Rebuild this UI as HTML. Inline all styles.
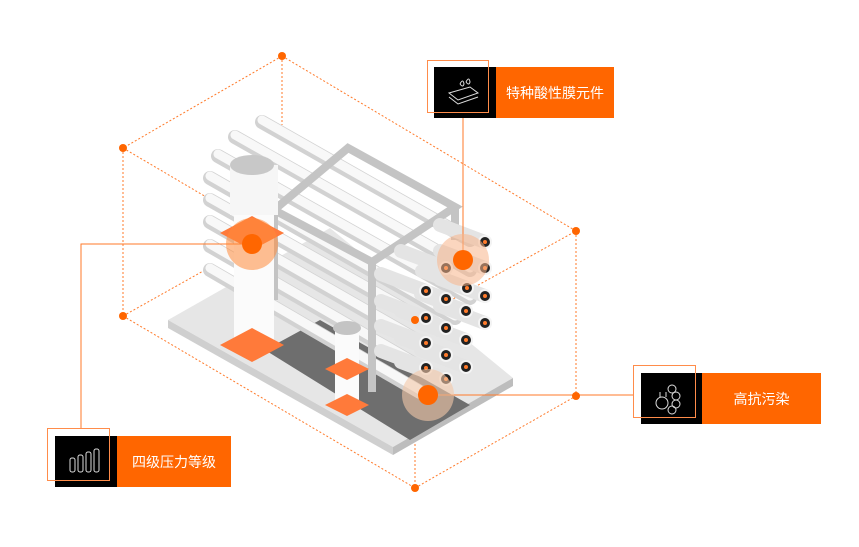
<!DOCTYPE html>
<html><head><meta charset="utf-8"><style>
body{margin:0;background:#fff;width:859px;height:547px;overflow:hidden;font-family:"Liberation Sans","Noto Sans CJK SC",sans-serif}
svg{position:absolute;left:0;top:0}
.lbl{position:absolute;color:#fff;font-size:14px;display:flex;align-items:center;justify-content:center;background:#ff6600}
.blk{position:absolute;background:#000}
.out{position:absolute;border:1px solid #ff8c4a}
</style></head><body>
<svg width="859" height="547" viewBox="0 0 859 547">
<g stroke="#ff7a2a" stroke-width="1" stroke-dasharray="2,2" fill="none">
<line x1="282" y1="56" x2="123" y2="148"/><line x1="282" y1="56" x2="576" y2="231"/>
<line x1="123" y1="148" x2="123" y2="316"/><line x1="123" y1="148" x2="415" y2="320"/>
<line x1="415" y1="320" x2="576" y2="231"/><line x1="415" y1="320" x2="415" y2="488"/>
<line x1="123" y1="316" x2="415" y2="488"/><line x1="415" y1="488" x2="576" y2="396"/>
<line x1="576" y1="231" x2="576" y2="396"/><line x1="282" y1="56" x2="282" y2="125"/>
<line x1="123" y1="316" x2="205" y2="270"/>
</g>
<!-- base plate -->
<polygon points="168,320 330,228 513,378 393,447" fill="#e6e6e6"/>
<polygon points="168,320 393,447 393,455 168,328" fill="#cfcfcf"/>
<polygon points="393,447 513,378 513,386 393,455" fill="#bdbdbd"/>
<polygon points="265,350 320,320 470,405 410,440" fill="#6e6e6e"/>
<!-- pipes -->
<g stroke-linecap="round">
<g stroke="#d2d2d2" stroke-width="14">
<line x1="262" y1="122" x2="470" y2="240"/>
<line x1="235" y1="137" x2="470" y2="270"/>
<line x1="218" y1="156" x2="470" y2="298"/>
<line x1="210" y1="178" x2="455" y2="318"/>
<line x1="210" y1="200" x2="440" y2="330"/>
<line x1="210" y1="222" x2="425" y2="345"/>
<line x1="210" y1="246" x2="425" y2="370"/>
<line x1="210" y1="270" x2="420" y2="392"/>
</g>
<g stroke="#f8f8f8" stroke-width="9">
<line x1="262" y1="120" x2="470" y2="238"/>
<line x1="235" y1="135" x2="470" y2="268"/>
<line x1="218" y1="154" x2="470" y2="296"/>
<line x1="210" y1="176" x2="455" y2="316"/>
<line x1="210" y1="198" x2="440" y2="328"/>
<line x1="210" y1="220" x2="425" y2="343"/>
<line x1="210" y1="244" x2="425" y2="368"/>
<line x1="210" y1="268" x2="420" y2="390"/>
</g>
</g>
<!-- frame -->
<g fill="none" stroke="#c4c4c4" stroke-width="8">
<polygon points="274,210 348,148 455,207 372,262"/>
<line x1="372" y1="262" x2="372" y2="392"/>
<line x1="455" y1="207" x2="455" y2="240"/>
<line x1="274" y1="210" x2="274" y2="300"/>
</g>
<!-- membrane tubes -->
<g stroke-linecap="round" stroke="#e4e4e4" stroke-width="14">
<line x1="440" y1="225" x2="485" y2="242"/><line x1="440" y1="251" x2="485" y2="268"/><line x1="422" y1="271" x2="467" y2="288"/><line x1="401" y1="251" x2="446" y2="268"/><line x1="440" y1="279" x2="485" y2="296"/><line x1="381" y1="274" x2="426" y2="291"/><line x1="401" y1="282" x2="446" y2="299"/><line x1="421" y1="294" x2="466" y2="311"/><line x1="440" y1="306" x2="485" y2="323"/><line x1="381" y1="301" x2="426" y2="318"/><line x1="401" y1="311" x2="446" y2="328"/><line x1="421" y1="323" x2="466" y2="340"/><line x1="381" y1="326" x2="426" y2="343"/><line x1="401" y1="338" x2="446" y2="355"/><line x1="421" y1="350" x2="466" y2="367"/><line x1="381" y1="351" x2="426" y2="368"/><line x1="401" y1="362" x2="446" y2="379"/>
</g>
<g>
<g fill="#222" stroke="#f4f4f4" stroke-width="2"><circle cx="485" cy="242" r="6"/><circle cx="485" cy="268" r="6"/><circle cx="467" cy="288" r="6"/><circle cx="446" cy="268" r="6"/><circle cx="485" cy="296" r="6"/><circle cx="426" cy="291" r="6"/><circle cx="446" cy="299" r="6"/><circle cx="466" cy="311" r="6"/><circle cx="485" cy="323" r="6"/><circle cx="426" cy="318" r="6"/><circle cx="446" cy="328" r="6"/><circle cx="466" cy="340" r="6"/><circle cx="426" cy="343" r="6"/><circle cx="446" cy="355" r="6"/><circle cx="466" cy="367" r="6"/><circle cx="426" cy="368" r="6"/><circle cx="446" cy="379" r="6"/></g>
<g fill="#ff7a2a"><circle cx="485" cy="242" r="2"/><circle cx="485" cy="268" r="2"/><circle cx="467" cy="288" r="2"/><circle cx="446" cy="268" r="2"/><circle cx="485" cy="296" r="2"/><circle cx="426" cy="291" r="2"/><circle cx="446" cy="299" r="2"/><circle cx="466" cy="311" r="2"/><circle cx="485" cy="323" r="2"/><circle cx="426" cy="318" r="2"/><circle cx="446" cy="328" r="2"/><circle cx="466" cy="340" r="2"/><circle cx="426" cy="343" r="2"/><circle cx="446" cy="355" r="2"/><circle cx="466" cy="367" r="2"/><circle cx="426" cy="368" r="2"/><circle cx="446" cy="379" r="2"/></g>
</g>
<!-- big column -->
<rect x="234" y="168" width="40" height="175" fill="#fbfbfb"/>
<rect x="230" y="165" width="48" height="50" fill="#f6f6f6"/>
<ellipse cx="252" cy="165" rx="22" ry="10" fill="#c8c8c8"/>
<polygon points="220,233 252,216 284,233 252,250" fill="#ff7a3a"/>
<polygon points="220,345 252,328 284,345 252,362" fill="#ff7a3a"/>
<!-- small column -->
<rect x="335" y="328" width="24" height="80" fill="#fbfbfb"/>
<ellipse cx="347" cy="328" rx="14" ry="7" fill="#c4c4c4"/>
<polygon points="325,369 347,358 369,369 347,380" fill="#ff7a3a"/>
<polygon points="325,405 347,394 369,405 347,416" fill="#ff7a3a"/>
<!-- connectors -->
<g stroke="#ff7a2a" stroke-width="1" fill="none">
<polyline points="252,244 81,244 81,428"/>
<line x1="463" y1="260" x2="463" y2="117"/>
<line x1="428" y1="395" x2="633" y2="395"/>
</g>
<circle cx="252" cy="244" r="26" fill="#ff8a3a" opacity="0.55"/>
<circle cx="463" cy="260" r="26" fill="#f7b48a" opacity="0.55"/>
<circle cx="428" cy="395" r="26" fill="#f3c8a8" opacity="0.6"/>
<g fill="#ff6600"><circle cx="252" cy="244" r="10"/><circle cx="463" cy="260" r="10"/><circle cx="428" cy="395" r="10"/>
<circle cx="282" cy="56" r="4"/><circle cx="123" cy="148" r="4"/><circle cx="123" cy="316" r="4"/><circle cx="415" cy="488" r="4"/><circle cx="576" cy="396" r="4"/><circle cx="576" cy="231" r="4"/><circle cx="415" cy="320" r="4"/></g>
</svg>
<div class="blk" style="left:434px;top:67px;width:62px;height:51px"></div>
<div class="lbl" style="left:496px;top:67px;width:118px;height:51px">特种酸性膜元件</div>
<div class="blk" style="left:641px;top:373px;width:61px;height:51px"></div>
<div class="lbl" style="left:702px;top:373px;width:119px;height:51px">高抗污染</div>
<div class="blk" style="left:55px;top:436px;width:62px;height:51px"></div>
<div class="lbl" style="left:117px;top:436px;width:114px;height:51px">四级压力等级</div>
<svg width="859" height="547" viewBox="0 0 859 547">
<g stroke="#ddd" stroke-width="1" fill="none">
<rect x="70" y="458" width="5" height="14" rx="2"/><rect x="78" y="455" width="5" height="17" rx="2"/><rect x="86" y="452" width="5" height="20" rx="2"/><rect x="94" y="449" width="5" height="23" rx="2"/>
<path d="M449,93 L470,87 L478,93 L458,100 Z M449,97 L458,104 L478,97"/><path d="M460,84 q3,-6 4,0 q-1,4 -4,0 M466,82 q3,-6 4,0 q-1,4 -4,0"/>
<circle cx="662" cy="403" r="6"/><path d="M660,392 v5 M666,392 v5"/><circle cx="672" cy="389" r="4"/><circle cx="676" cy="396" r="4"/><circle cx="676" cy="404" r="4"/><circle cx="672" cy="410" r="4"/>
</g>
</svg>
<div class="out" style="left:427px;top:60px;width:60px;height:51px"></div>
<div class="out" style="left:633px;top:365px;width:61px;height:51px"></div>
<div class="out" style="left:47px;top:428px;width:61px;height:51px"></div>
</body></html>
